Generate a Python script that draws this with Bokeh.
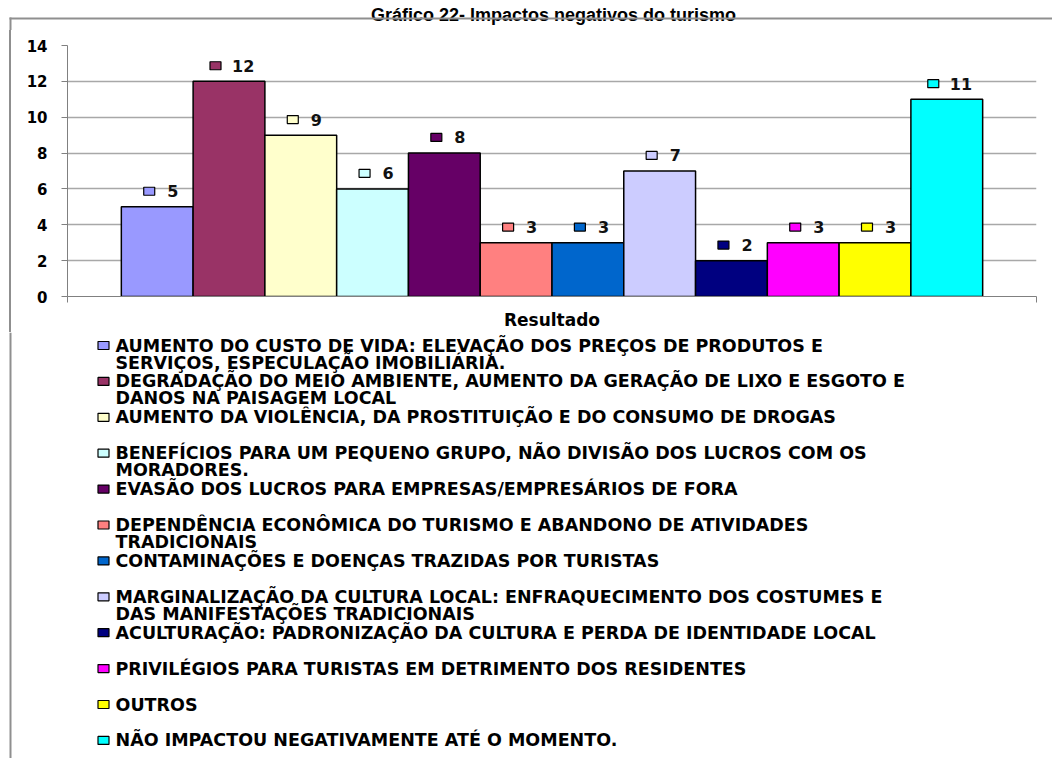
from bokeh.plotting import figure
from bokeh.layouts import column, row
from bokeh.models import Range1d, FixedTicker, ColumnDataSource, Div
from bokeh.core.properties import value
from bokeh.embed import file_html
from bokeh.resources import INLINE

# ---------------- data ----------------
title_text = "Gráfico 22- Impactos negativos do turismo"
axis_category = "Resultado"
counts = [5, 12, 9, 6, 8, 3, 3, 7, 2, 3, 3, 11]
colors = ["#9999FF", "#993366", "#FFFFCC", "#CCFFFF", "#660066", "#FF8080",
          "#0066CC", "#CCCCFF", "#000080", "#FF00FF", "#FFFF00", "#00FFFF"]
legend_labels = [
    "AUMENTO DO CUSTO DE VIDA: ELEVAÇÃO DOS PREÇOS DE PRODUTOS E\nSERVIÇOS, ESPECULAÇÃO IMOBILIÁRIA.",
    "DEGRADAÇÃO DO MEIO AMBIENTE, AUMENTO DA GERAÇÃO DE LIXO E ESGOTO E\nDANOS NA PAISAGEM LOCAL",
    "AUMENTO DA VIOLÊNCIA, DA PROSTITUIÇÃO E DO CONSUMO DE DROGAS",
    "BENEFÍCIOS PARA UM PEQUENO GRUPO, NÃO DIVISÃO DOS LUCROS COM OS\nMORADORES.",
    "EVASÃO DOS LUCROS PARA EMPRESAS/EMPRESÁRIOS DE FORA",
    "DEPENDÊNCIA ECONÔMICA DO TURISMO E ABANDONO DE ATIVIDADES\nTRADICIONAIS",
    "CONTAMINAÇÕES E DOENÇAS TRAZIDAS POR TURISTAS",
    "MARGINALIZAÇÃO DA CULTURA LOCAL: ENFRAQUECIMENTO DOS COSTUMES E\nDAS MANIFESTAÇÕES TRADICIONAIS",
    "ACULTURAÇÃO: PADRONIZAÇÃO DA CULTURA E PERDA DE IDENTIDADE LOCAL",
    "PRIVILÉGIOS PARA TURISTAS EM DETRIMENTO DOS RESIDENTES",
    "OUTROS",
    "NÃO IMPACTOU NEGATIVAMENTE ATÉ O MOMENTO.",
]
y_ticks = [0, 2, 4, 6, 8, 10, 12, 14]

# ---------------- style ----------------
FONT_NAME = "DejaVu Sans"
FONT = value(FONT_NAME)
FRAME_GRAY = "#8f8f8f"
W = 1052
TOP_H = 30
CHART_H = 302
LEG_H = 758 - TOP_H - CHART_H
STRIP_W = 20


def blank(w, h):
    f = figure(width=w, height=h, x_range=Range1d(0, w), y_range=Range1d(h, 0),
               x_axis_type=None, y_axis_type=None, min_border=0, toolbar_location=None,
               output_backend="svg", outline_line_color=None)
    f.grid.visible = False
    return f


# ---------------- title + frame top ----------------
tfig = blank(W, TOP_H)
tfig.text(x=[553], y=[14], text=[title_text], text_font=value("Liberation Sans"),
          text_font_style="bold", text_font_size="18px", text_align="center",
          text_baseline="alphabetic", text_color="black")
tfig.quad(left=[9], right=[W], top=[17], bottom=[19], fill_color=FRAME_GRAY, line_color=None)
tfig.quad(left=[9], right=[11], top=[17], bottom=[TOP_H], fill_color=FRAME_GRAY, line_color=None)

# ---------------- left frame strip beside chart (plain block, no text) ----------------
lstrip = Div(text="", width=STRIP_W, height=CHART_H, margin=0,
             styles={"background": f"linear-gradient(to right, transparent 9px, {FRAME_GRAY} 9px, "
                                   f"{FRAME_GRAY} 11px, transparent 11px)",
                     "padding": "0", "margin": "0"})

# ---------------- bar chart ----------------
n = len(counts)
pos = [i + 1 for i in range(n)]
x0, x1 = 0.5 - 0.75, n + 0.5 + 0.75
p = figure(width=W - STRIP_W, height=CHART_H, x_range=Range1d(x0, x1), y_range=Range1d(0, 14),
           toolbar_location=None, output_backend="svg",
           min_border_left=67 - STRIP_W, min_border_right=16, min_border_top=15, min_border_bottom=34)
p.outline_line_color = None
p.xgrid.visible = False
p.ygrid.ticker = FixedTicker(ticks=y_ticks[1:-1])
p.ygrid.grid_line_color = "#a8a8a8"
p.ygrid.grid_line_width = 1.5

p.yaxis.ticker = FixedTicker(ticks=y_ticks)
p.yaxis.major_label_text_font = FONT_NAME
p.yaxis.major_label_text_font_style = "bold"
p.yaxis.major_label_text_font_size = "15px"
p.yaxis.major_label_text_color = "black"
p.yaxis.major_label_standoff = 14
p.yaxis.major_tick_out = 6
p.yaxis.major_tick_in = 0
p.yaxis.minor_tick_line_color = None
p.yaxis.axis_line_color = "#808080"
p.yaxis.major_tick_line_color = "#808080"

mid = (x0 + x1) / 2
p.xaxis.ticker = FixedTicker(ticks=[mid], minor_ticks=[x0, x1])
p.xaxis.major_label_overrides = {mid: axis_category}
p.xaxis.major_label_text_font = FONT_NAME
p.xaxis.major_label_text_font_style = "bold"
p.xaxis.major_label_text_font_size = "17px"
p.xaxis.major_label_text_color = "black"
p.xaxis.major_label_standoff = 7
p.xaxis.major_tick_out = 0
p.xaxis.major_tick_in = 0
p.xaxis.minor_tick_out = 6
p.xaxis.minor_tick_in = 0
p.xaxis.minor_tick_line_color = "#808080"
p.xaxis.axis_line_color = "#808080"

src = ColumnDataSource(dict(x=pos, top=counts, color=colors))
p.vbar(x="x", top="top", width=1.0, source=src, fill_color="color",
       line_color="black", line_width=1.5)

# data labels: small key square + value
px_per_unit = 969 / (x1 - x0)
lab_txt = [str(c) for c in counts]
nd = [len(t) for t in lab_txt]
sq_x = [x + (-8 - 5.5 * (k - 1)) / px_per_unit for x, k in zip(pos, nd)]
tx_off = [10 - 7 * (k - 1) for k in nd]
lab_y = [c + 0.87 for c in counts]
p.rect(x=sq_x, y=lab_y, width=11, height=8, width_units="screen", height_units="screen",
       fill_color=colors, line_color="black", line_width=1.2)
p.text(x=pos, y=lab_y, text=lab_txt, x_offset=tx_off, text_font=FONT,
       text_font_style="bold", text_font_size="16px", text_align="left",
       text_baseline="middle", text_color="#111111")

# ---------------- legend ----------------
lg = blank(W, LEG_H)
lg.quad(left=[9], right=[11], top=[0], bottom=[LEG_H], fill_color=FRAME_GRAY, line_color=None)
row_y = [13 + 35.9 * i for i in range(len(legend_labels))]
lg.rect(x=[103] * len(legend_labels), y=row_y, width=11, height=8,
        fill_color=colors, line_color="black", line_width=1.2)
tx, ty, tt = [], [], []
for yy, lab in zip(row_y, legend_labels):
    for j, line in enumerate(lab.split("\n")):
        tx.append(115)
        ty.append(yy + 17 * j)
        tt.append(line)
lg.text(x=tx, y=ty, text=tt, text_font=FONT, text_font_style="bold",
        text_font_size="17.5px", text_align="left", text_baseline="middle",
        text_color="black")

layout = column(tfig, row(lstrip, p), lg)
open("out.html", "w").write(file_html(layout, INLINE))
